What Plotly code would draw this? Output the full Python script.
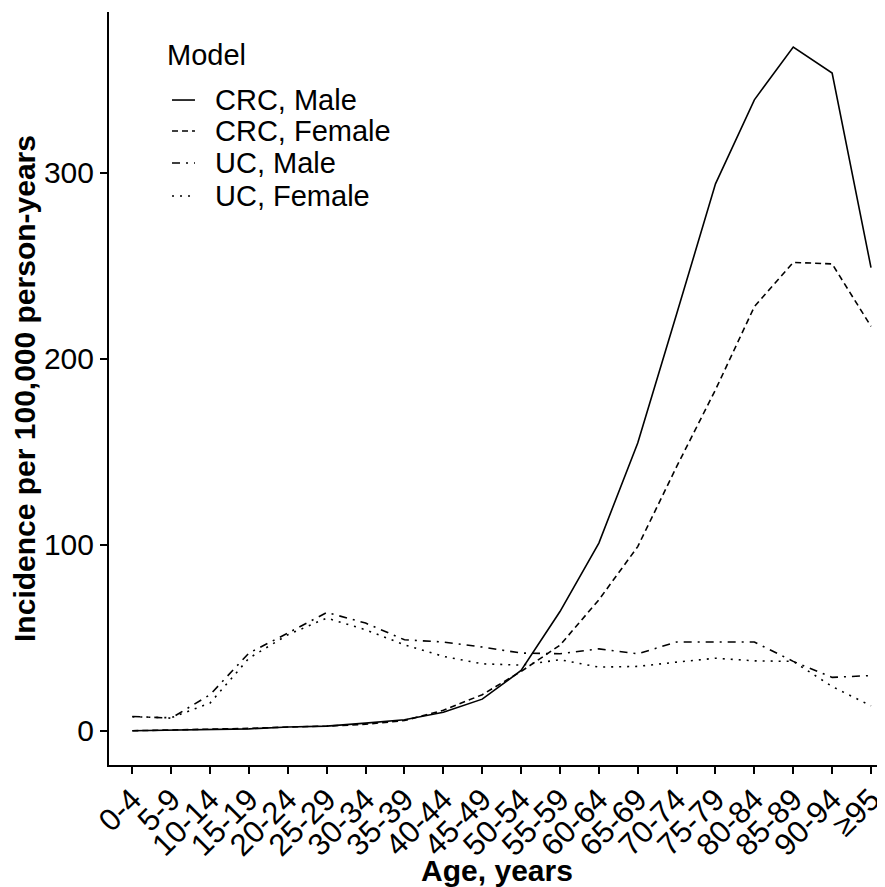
import plotly.graph_objects as go

age_groups = ["0-4", "5-9", "10-14", "15-19", "20-24", "25-29", "30-34", "35-39",
              "40-44", "45-49", "50-54", "55-59", "60-64", "65-69", "70-74", "75-79",
              "80-84", "85-89", "90-94", "≥95"]

crc_male = [0.0, 0.2, 0.5, 1.0, 2.0, 2.5, 4.1, 5.9, 10.0, 17.0, 32.4, 64.1,
            100.9, 154.7, 224.0, 294.0, 339.2, 367.6, 353.6, 249.0]
crc_female = [0.0, 0.3, 0.8, 1.3, 2.0, 2.5, 3.5, 5.5, 11.0, 19.4, 31.9, 46.0,
              70.4, 99.0, 142.0, 183.3, 228.0, 251.8, 251.0, 217.4]
uc_male = [7.7, 6.8, 19.4, 41.8, 52.5, 63.6, 57.9, 48.9, 47.7, 45.0, 41.8, 41.4,
           44.0, 41.4, 47.7, 47.7, 47.7, 37.3, 28.7, 29.7]
uc_female = [7.5, 7.0, 14.9, 39.0, 51.6, 60.6, 54.3, 46.2, 40.0, 36.0, 35.3, 38.2,
             34.2, 34.6, 36.9, 39.0, 37.6, 37.3, 23.8, 13.4]

series_names = ["CRC, Male", "CRC, Female", "UC, Male", "UC, Female"]
series_values = [crc_male, crc_female, uc_male, uc_female]
dashes = ["solid", "6px,4px", "8px,6px,2px,6px", "2px,6px"]
legend_title = "Model"

FONT = "Liberation Sans, Arial, sans-serif"
x_idx = list(range(len(age_groups)))

fig = go.Figure()
for name, vals, dash in zip(series_names, series_values, dashes):
    fig.add_trace(go.Scatter(
        x=x_idx, y=vals, mode="lines", name=name, showlegend=False,
        line=dict(color="black", width=1.6, dash=dash),
    ))

# Legend (drawn as layout text + key lines to match the compact spacing)
leg_x_line = (0.0812, 0.1108)
leg_x_text = 0.134
leg_y_title = 0.943
leg_y_items = [0.8831, 0.842, 0.7995, 0.7556]
fig.add_annotation(x=0.072, y=leg_y_title, xref="paper", yref="paper",
                   text=legend_title, showarrow=False, xanchor="left", yanchor="middle",
                   font=dict(size=29))
for name, dash, ly in zip(series_names, dashes, leg_y_items):
    fig.add_shape(type="line", xref="paper", yref="paper",
                  x0=leg_x_line[0], x1=leg_x_line[1], y0=ly, y1=ly,
                  line=dict(color="black", width=1.6, dash=dash))
    fig.add_annotation(x=leg_x_text, y=ly, xref="paper", yref="paper",
                       text=name, showarrow=False, xanchor="left", yanchor="middle",
                       font=dict(size=29))

# the page adds an 8px body margin, so the figure is sized to the remaining window
fig.update_layout(
    width=877, height=879,
    margin=dict(l=101, r=0, t=4, b=122),
    paper_bgcolor="white", plot_bgcolor="white",
    font=dict(family=FONT, size=29, color="black"),
    showlegend=False,
    xaxis=dict(
        tickmode="array", tickvals=x_idx, ticktext=age_groups,
        range=[-0.6, 19.36], tickangle=-45,
        showline=True, linecolor="black", linewidth=2,
        ticks="outside", ticklen=7, tickwidth=2, tickcolor="black",
        showgrid=False, zeroline=False, automargin=False,
        ticklabeloverflow="allow", ticklabelstandoff=-5,
        tickfont=dict(size=31),
        title=dict(text="<b>Age, years</b>", font=dict(size=30), standoff=8),
    ),
    yaxis=dict(
        range=[-18.4, 386.4],
        tickvals=[0, 100, 200, 300],
        showline=True, linecolor="black", linewidth=2,
        ticks="outside", ticklen=7, tickwidth=2, tickcolor="black",
        showgrid=False, zeroline=False, automargin=False,
        tickfont=dict(size=30),
        title=dict(text="<b>Incidence per 100,000 person-years</b>", font=dict(size=30), standoff=4),
    ),
)

fig.write_html("out.html")
